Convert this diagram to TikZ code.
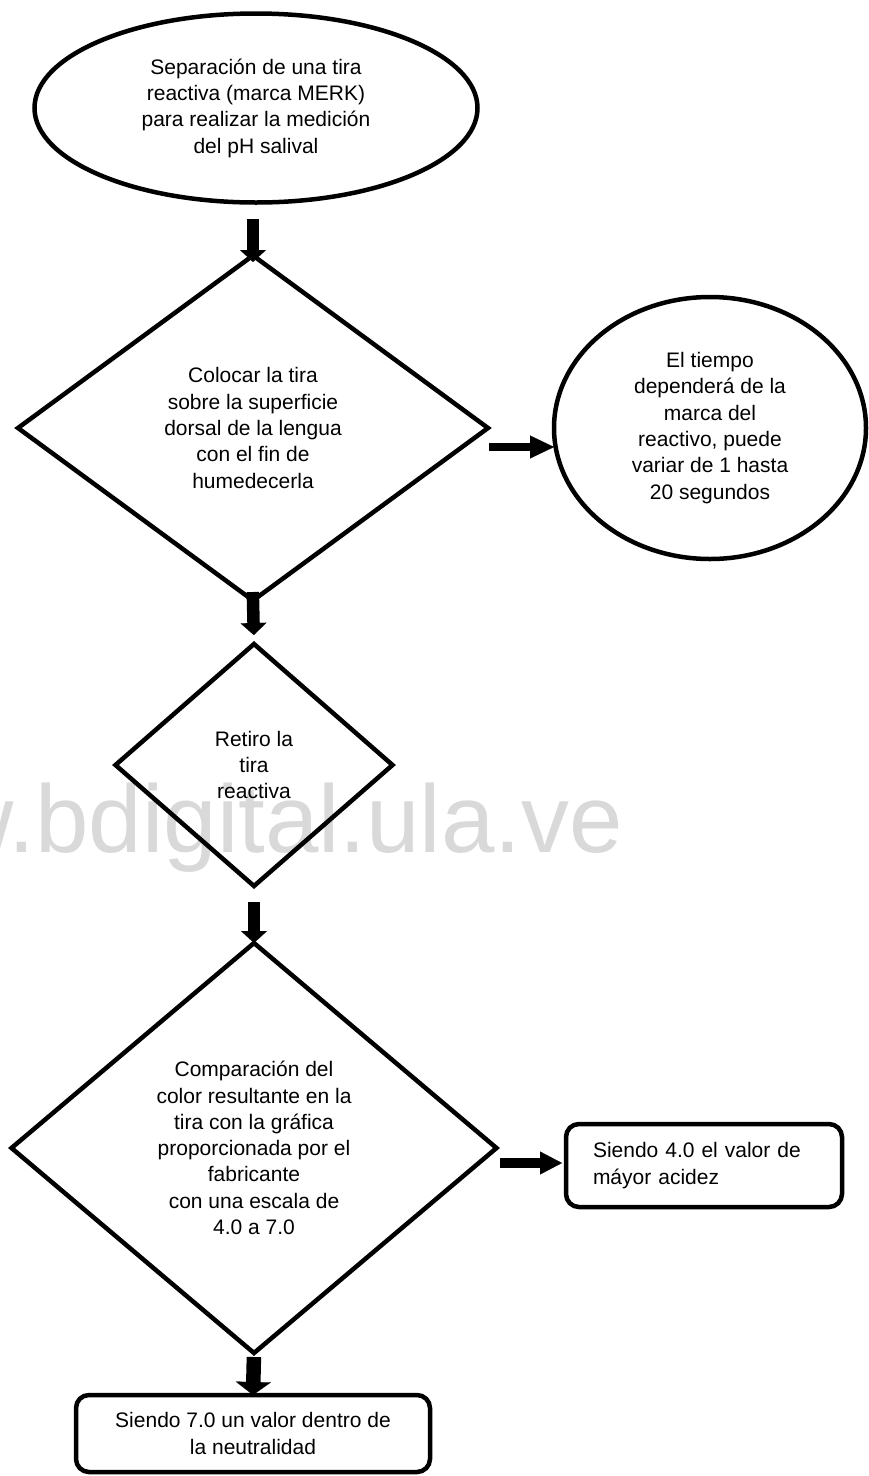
\documentclass[tikz,border=0pt]{standalone}
\usepackage{fontspec}
\setmainfont{Liberation Sans}
\usetikzlibrary{shapes.geometric,arrows.meta}
\definecolor{wmgray}{HTML}{D9D9D9}
\begin{document}
\begin{tikzpicture}[x=1pt,y=-1pt,
  every node/.style={font=\fontsize{21}{26.3}\selectfont, align=center, text=black, outer sep=0pt},
  shapeline/.style={draw=black, line width=4.5pt},
  ell/.style={shapeline, ellipse, inner sep=0pt},
  dia/.style={shapeline, diamond, inner sep=0pt},
  rbox/.style={shapeline, rectangle, rounded corners=13pt},
  vflow/.style={line width=12.5pt, -{Triangle[width=26pt,length=12pt,line width=0.1pt]}},
  vflowbig/.style={line width=14.5pt, -{Triangle[width=35pt,length=13pt,line width=0.1pt]}},
  hflow/.style={line width=7.5pt, -{Triangle[width=23pt,length=24pt,line width=0.1pt]}},
  hflowb/.style={line width=10pt, -{Triangle[width=23pt,length=22pt,line width=0.1pt]}},
]
\useasboundingbox (0,0) rectangle (868,1476);
\fill[white] (0,0) rectangle (868,1476);
\begin{scope}
  \clip (0,0) rectangle (868,1476);
  \node[anchor=base east, font=\fontsize{96}{96}\selectfont, text=wmgray] (wm) at (626,852) {www.bdigital.ula.ve};
\end{scope}

\node[ell, minimum width=443pt, minimum height=189pt] (e1) at (256,108)
  {Separación de una tira\\reactiva (marca MERK)\\para realizar la medición\\del pH salival};
\node[dia, minimum width=470pt, minimum height=345pt] (d1) at (253,428)
  {Colocar la tira\\sobre la superficie\\dorsal de la lengua\\con el fin de\\humedecerla};
\node[ell, minimum width=312pt, minimum height=262pt] (c2) at (710,428)
  {El tiempo\\dependerá de la\\marca del\\reactivo, puede\\variar de 1 hasta\\20 segundos};
\node[dia, minimum width=277pt, minimum height=242pt] (d2) at (254,765)
  {Retiro la\\tira\\reactiva};
\node[dia, minimum width=485pt, minimum height=410pt] (d3) at (254,1148)
  {Comparación del\\color resultante en la\\tira con la gráfica\\proporcionada por el\\fabricante\\con una escala de\\4.0 a 7.0};
\node[rbox, minimum width=276pt, minimum height=83pt, text width=222pt, inner xsep=27pt, align=left] (b1) at (704,1165.5)
  {Siendo 4.0 el valor de\\máyor acidez};
\node[rbox, minimum width=354pt, minimum height=77pt] (b2) at (253,1433.5)
  {Siendo 7.0 un valor dentro de\\la neutralidad};

\draw[vflow, shorten <=16.5pt, shorten >=-6.5pt] (e1.south -| d1.north) -- (d1.north);
\draw[vflow, shorten <=-8.5pt, shorten >=9pt] (d1.south) -- (d2.north);
\draw[vflow, shorten <=16pt] (d2.south) -- (d3.north);
\draw[vflowbig, shorten <=4pt] (d3.south) -- (b2.north);
\draw[hflow, shorten <=1pt] ([yshift=-19pt]d1.east) -- ([yshift=-19pt]c2.west);
\draw[hflowb, shorten <=3.5pt, shorten >=4pt] ([yshift=-15pt]d3.east) -- ([yshift=-15pt]d3.east -| b1.west);
\end{tikzpicture}
\end{document}
